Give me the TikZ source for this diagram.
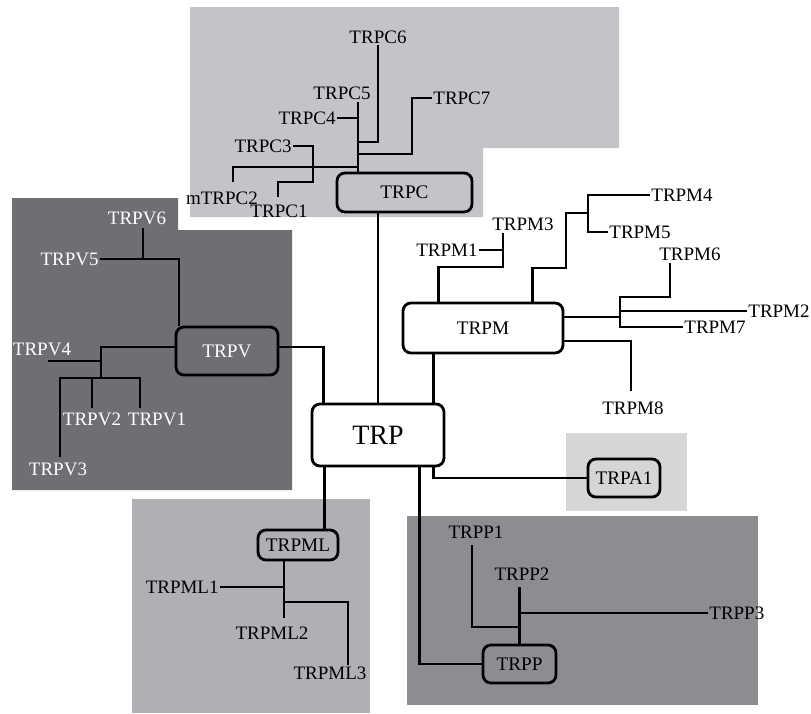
\documentclass[tikz,border=0pt]{standalone}
\usepackage{fontspec}
\setmainfont{Liberation Serif}
\usepackage{tikz}
\definecolor{grigioC}{HTML}{C3C4C8}
\definecolor{grigioV}{HTML}{6E6F73}
\definecolor{grigioML}{HTML}{AFB0B4}
\definecolor{grigioP}{HTML}{8C8D91}
\definecolor{grigioA}{HTML}{D5D6D8}
\tikzset{
  famiglia/.style={draw, line width=1.4pt, rounded corners=4pt, inner sep=0pt,
    font=\fontsize{9.6}{11}\selectfont},
  ramo/.style={line width=1.4pt},
  etichetta/.style={inner sep=0.5pt, font=\fontsize{9.5}{11}\selectfont},
}
\begin{document}
\begin{tikzpicture}[x=0.5pt, y=-0.5pt]
        \useasboundingbox (0,0) rectangle (811,714);
        % Sfondi delle famiglie
        \fill[grigioC] (190,7) -- (619,7) -- (619,148) -- (483,148) -- (483,217) -- (190,217) -- cycle;
        \fill[grigioV] (12,198) -- (178,198) -- (178,230) -- (292,230) -- (292,490) -- (12,490) -- cycle;
        \fill[grigioML] (132,499) rectangle (370,713);
        \fill[grigioP] (407,516) rectangle (758,705);
        \fill[grigioA] (566,433) rectangle (687,511);
        % Famiglie
        \node[famiglia, fill=white, minimum width=66pt, minimum height=31pt,
            font=\fontsize{14}{16}\selectfont] (TRP) at (378,435) {TRP};
        \node[famiglia, fill=grigioC, minimum width=67.5pt, minimum height=19.5pt] (TRPC) at (404.5,192.5) {TRPC};
        \node[famiglia, fill=grigioV, text=white, minimum width=51pt, minimum height=24pt] (TRPV) at (227,351) {TRPV};
        \node[famiglia, fill=white, minimum width=80pt, minimum height=25pt] (TRPM) at (483,328) {TRPM};
        \node[famiglia, fill=grigioML, minimum width=40pt, minimum height=15pt] (TRPML) at (298,545) {TRPML};
        \node[famiglia, fill=grigioP, minimum width=36.5pt, minimum height=19pt] (TRPP) at (519.5,664) {TRPP};
        \node[famiglia, fill=grigioA, minimum width=36pt, minimum height=19pt] (TRPA1) at (624,478) {TRPA1};
        % Collegamenti a TRP
        \draw[ramo] (TRP.north) -- (TRP.north |- TRPC.south);
        \draw[ramo] ([xshift=6.5pt]TRP.north west) |- ([yshift=2pt]TRPV.east);
        \draw[ramo] ([xshift=-6pt]TRP.north east) -- ([xshift=-6pt]TRP.north east |- TRPM.south);
        \draw[ramo] ([xshift=7pt]TRP.south west) -- ([xshift=7pt]TRP.south west |- TRPML.north);
        \draw[ramo] ([xshift=-13pt]TRP.south east) |- (TRPP.west);
        \draw[ramo] ([xshift=-6pt]TRP.south east) |- (TRPA1.west);
        % TRPC
        \node[etichetta] (C6) at (378,37) {TRPC6};
        \node[etichetta] (C5) at (342,93) {TRPC5};
        \node[etichetta, anchor=east] (C4) at (337,118) {TRPC4};
        \node[etichetta, anchor=west] (C7) at (432,98) {TRPC7};
        \node[etichetta, anchor=east] (C3) at (293,146) {TRPC3};
        \node[etichetta] (mC2) at (222,198) {mTRPC2};
        \node[etichetta] (C1) at (279,211) {TRPC1};
        \draw[ramo] ([xshift=-23.25pt]TRPC.north) -- ++(0,-70);
        \draw[ramo] (C4.east) -- (358,118);
        \draw[ramo] (C6.south) |- (358,142);
        \draw[ramo] (C7.west) -| (412,154) -- (358,154);
        \draw[ramo] (233,182) |- (358,167);
        \draw[ramo] (C3.east) -| (313,182) -| (278,197);
        % TRPV
        \begin{scope}[every node/.append style={text=white}]
        \node[etichetta] (V6) at (137,218) {TRPV6};
        \node[etichetta, anchor=east] (V5) at (100,259) {TRPV5};
        \node[etichetta] (V4) at (42,349) {TRPV4};
        \node[etichetta] (V2) at (92,419) {TRPV2};
        \node[etichetta] (V1) at (157,419) {TRPV1};
        \node[etichetta] (V3) at (58,469) {TRPV3};
        \end{scope}
        \draw[ramo] (V5.east) -| ([xshift=-24pt]TRPV.north);
        \draw[ramo] (143,228) -- (143,259);
        \draw[ramo] ([yshift=2pt]TRPV.west) -| (101,378);
        \draw[ramo] (48,361) -- (101,361);
        \draw[ramo] (60,457) |- (140,378) -- (140,408);
        \draw[ramo] (92,378) -- (92,408);
        % TRPM
        \node[etichetta, anchor=east] (M1) at (479,250) {TRPM1};
        \node[etichetta] (M3) at (523,224) {TRPM3};
        \node[etichetta, anchor=west] (M4) at (650,195) {TRPM4};
        \node[etichetta, anchor=west] (M5) at (608,232) {TRPM5};
        \node[etichetta] (M6) at (690,254) {TRPM6};
        \node[etichetta, anchor=west] (M2) at (747,311) {TRPM2};
        \node[etichetta, anchor=west] (M7) at (683,327) {TRPM7};
        \node[etichetta] (M8) at (633,408) {TRPM8};
        \draw[ramo] ([xshift=18.5pt]TRPM.north west) |- (503,267) -- (503,233);
        \draw[ramo] (M1.east) -- (503,250);
        \draw[ramo] ([xshift=65.5pt]TRPM.north west) |- (566,268) |- (588,213);
        \draw[ramo] (M4.west) -| (588,232) -- (M5.west);
        \draw[ramo] ([yshift=5.5pt]TRPM.east) -- (620,317);
        \draw[ramo] (M7.west) -| (620,297) -- (670,297) -- (670,263);
        \draw[ramo] (M2.west) -- (620,311);
        \draw[ramo] ([yshift=-6.5pt]TRPM.east) -| (631,391);
        % TRPP
        \node[etichetta] (P1) at (476,532) {TRPP1};
        \node[etichetta] (P2) at (522,574) {TRPP2};
        \node[etichetta, anchor=west] (P3) at (708,613) {TRPP3};
        \draw[ramo] (TRPP.north) -- ++(0,-57);
        \draw[ramo] (P3.west) -- (520,613);
        \draw[ramo] (472,545) |- (520,627);
        % TRPML
        \node[etichetta, anchor=east] (ML1) at (220,587) {TRPML1};
        \node[etichetta] (ML2) at (272,633) {TRPML2};
        \node[etichetta] (ML3) at (330,673) {TRPML3};
        \draw[ramo] ([xshift=-7pt]TRPML.south) -- ++(0,57);
        \draw[ramo] (ML1.east) -- (284,587);
        \draw[ramo] (284,602) -| (348,665);
    \end{tikzpicture}
\end{document}
